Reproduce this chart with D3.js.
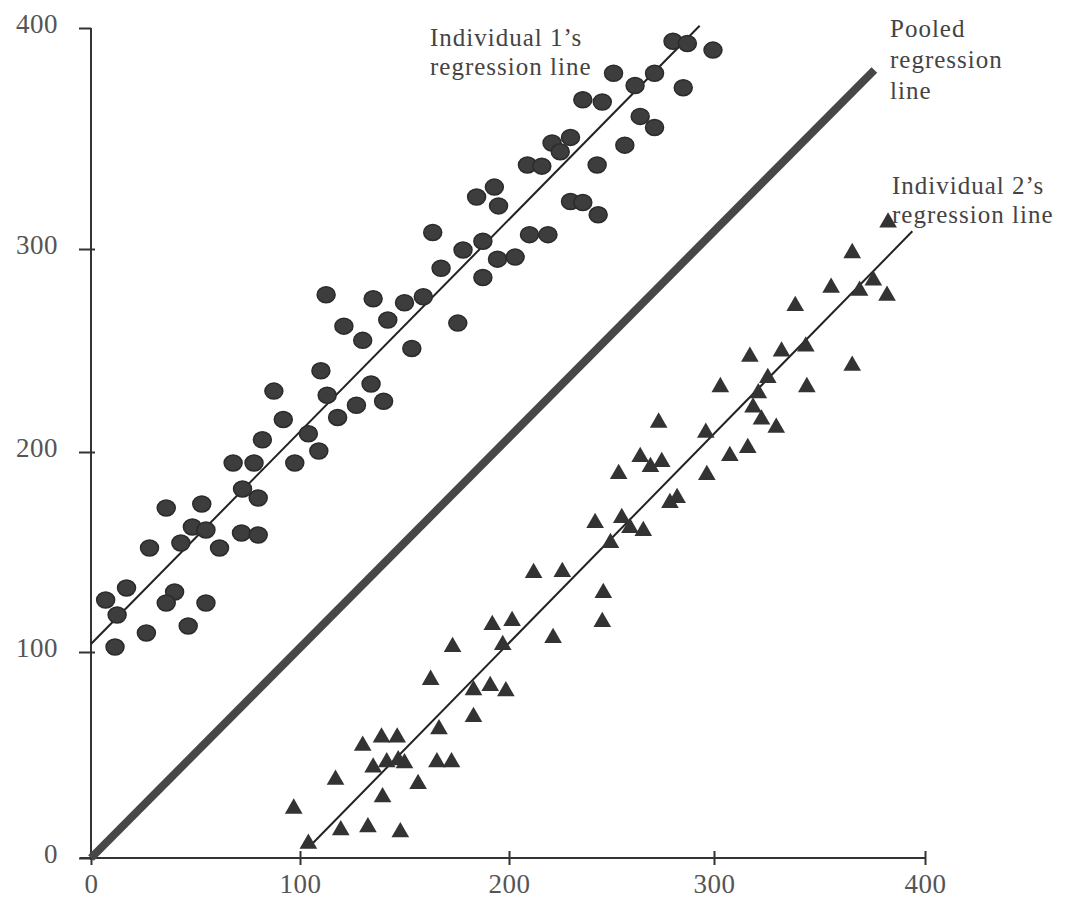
<!DOCTYPE html>
<html>
<head>
<meta charset="utf-8">
<script src="https://cdn.jsdelivr.net/npm/d3@7"></script>
<style>
  html, body { margin: 0; padding: 0; background: #fff; }
  svg { display: block; }
</style>
</head>
<body>
<svg id="chart" width="1069" height="898"></svg>
<script>
// tick labels
const xTicks = [0, 100, 200, 300, 400];
const yTicks = [0, 100, 200, 300, 400];

// individual 1 (circles)
const ind1X = [130, 110, 87.5, 113, 134, 140, 127, 118, 92, 82, 104, 109, 68, 78, 97.5, 72.5, 80, 36, 53, 48.5,
    55, 43, 28, 61.5, 72, 80, 17, 7, 12.5, 40, 36, 55, 26.5, 46.5, 11.5,
    280, 287, 299.5, 251, 271, 261.5, 285, 236, 245.5, 264, 271, 256.5, 221, 230, 225, 243, 209, 216,
    193, 184.5, 195, 230, 236, 243.5, 210, 219, 163.5, 187.5, 178, 194.5, 203, 167.5, 187.5,
    135, 150, 159, 142, 175.5, 121, 153.5, 112.5];
const ind1Y = [255, 240, 230, 228, 233.5, 225, 223, 217, 216, 206, 209, 200.5, 194.5, 194.5, 194.5, 181.5, 177, 172, 174, 162.5,
    161, 154.5, 152, 152, 159.5, 158.5, 132, 126, 118.5, 130, 124.5, 124.5, 109.5, 113, 102.5,
    394, 393, 390, 379.5, 379.5, 374, 373, 367.5, 366.5, 360, 355, 347, 348, 350.5, 344, 338, 338, 337.5,
    328, 323.5, 319.5, 321.5, 321, 315.5, 306.5, 306.5, 307.5, 303.5, 299.5, 295, 296, 290.5, 286,
    275.5, 273.5, 276.5, 265, 263.5, 262, 251, 277.5];

// individual 2 (triangles)
const ind2X = [212, 226, 245.5, 192, 201.5, 221.5, 173, 197, 162.5, 183, 191, 198.5, 183, 166.5, 130, 139, 146.5,
    135, 141.5, 147, 150, 165.5, 172.5, 156.5, 117, 139.5, 97, 119.5, 132.5, 148, 104,
    382.5, 365.5, 355.5, 375.5, 369, 382, 338.5, 343.5, 332, 317, 365.5, 325.5, 344, 303, 321, 318.5, 322.5, 329.5,
    273, 296, 264, 274.5, 269, 307.5, 316, 253.5, 296.5, 278.5, 282, 242, 255, 259, 265.5, 249.5, 246];
const ind2Y = [139.5, 140, 115, 113.5, 115.5, 107, 102.5, 103.5, 86.5, 81.5, 83.5, 81, 68.5, 62.5, 54.5, 58.5, 58.5,
    44, 46.5, 47.5, 46, 46.5, 46.5, 36, 38, 29.5, 24, 13.5, 15, 12.5, 7,
    312, 298, 281, 284.5, 279.5, 277, 272, 252, 249.5, 247, 242.5, 236.5, 232, 232, 229, 222, 216, 212,
    214.5, 209.5, 197.5, 195, 192.5, 198, 202, 189, 188.5, 174.5, 177, 164.5, 167, 162, 160.5, 154.5, 129.5];

// regression lines (end points in data units)
const ind1Line = [[0, 104], [293, 401]];
const ind2Line = [[104, 5], [394, 308]];
const pooledLine = [[0, 0], [376, 381]];

const ind1Label = ["Individual 1\u2019s", "regression line"];
const pooledLabel = ["Pooled", "regression", "line"];
const ind2Label = ["Individual 2\u2019s", "regression line"];

class RegressionScatter {
    constructor(svg) {
        this.svg = d3.select(svg);
    }

    initialize() {
        // the printed axes are hand spaced, so map every tick to where it sits
        this.x = d3.scaleLinear().domain(xTicks).range([91, 300, 509, 714, 925]);
        this.y = d3.scaleLinear().domain(yTicks).range([858, 652, 452, 249, 28]);
        this.font = "'Liberation Serif', 'Times New Roman', serif";
        this.ink = "#333";
    }

    drawAxes() {
        const x = this.x, y = this.y;

        const gx = this.svg.append("g")
            .attr("transform", `translate(0, ${y(0)})`)
            .call(d3.axisBottom(x).tickValues(xTicks).tickSize(7).tickPadding(9).tickFormat(d3.format("d")));
        gx.select(".domain").remove();
        gx.selectAll(".tick line").attr("y1", -7).attr("stroke", this.ink).attr("stroke-width", 2);
        gx.selectAll(".tick text")
            .style("font-family", this.font).style("font-size", "27px")
            .style("letter-spacing", "0.5px").attr("fill", "#555");

        const gy = this.svg.append("g")
            .attr("transform", `translate(${x(0)}, 0)`)
            .call(d3.axisLeft(y).tickValues(yTicks).tickSize(12).tickPadding(21).tickFormat(d3.format("d")));
        gy.select(".domain").remove();
        gy.selectAll(".tick line").attr("x1", d => d === 400 ? 0 : 4).attr("stroke", this.ink).attr("stroke-width", 2);
        gy.selectAll(".tick text")
            .attr("y", -4)
            .style("font-family", this.font).style("font-size", "27px")
            .style("letter-spacing", "0.5px").attr("fill", "#555");

        // axis lines
        this.svg.append("line")
            .attr("x1", x(0) - 11).attr("x2", x(400))
            .attr("y1", y(0)).attr("y2", y(0))
            .attr("stroke", this.ink).attr("stroke-width", 2);
        this.svg.append("line")
            .attr("x1", x(0)).attr("x2", x(0))
            .attr("y1", y(0) + 2).attr("y2", y(400))
            .attr("stroke", this.ink).attr("stroke-width", 2);
    }

    drawLines() {
        const line = d3.line().x(d => this.x(d[0])).y(d => this.y(d[1]));

        this.svg.append("path")
            .datum(pooledLine)
            .attr("d", line)
            .attr("fill", "none")
            .attr("stroke", "#474747")
            .attr("stroke-width", 8);

        [ind1Line, ind2Line].forEach(l => {
            this.svg.append("path")
                .datum(l)
                .attr("d", line)
                .attr("fill", "none")
                .attr("stroke", "#222")
                .attr("stroke-width", 2);
        });
    }

    drawPoints() {
        const circles = ind1X.map((d, i) => ({ x: d, y: ind1Y[i] }));
        const triangles = ind2X.map((d, i) => ({ x: d, y: ind2Y[i] }));

        this.svg.append("g")
            .selectAll("ellipse")
            .data(circles)
            .join("ellipse")
            .attr("cx", d => this.x(d.x))
            .attr("cy", d => this.y(d.y))
            .attr("rx", 9)
            .attr("ry", 8)
            .attr("fill", "#3d3d3d")
            .attr("stroke", "#2b2b2b")
            .attr("stroke-width", 1.5);

        const tri = d3.symbol().type(d3.symbolTriangle).size(135);
        this.svg.append("g")
            .selectAll("path")
            .data(triangles)
            .join("path")
            .attr("transform", d => `translate(${this.x(d.x)}, ${this.y(d.y)})`)
            .attr("d", tri)
            .attr("fill", "#333");
    }

    drawLabels() {
        // one text element per label, lines as tspans
        const block = (lines, x0, y0, step) => {
            this.svg.append("text")
                .attr("x", x0)
                .attr("y", y0)
                .style("font-family", this.font)
                .style("font-size", "25px")
                .style("letter-spacing", "1px")
                .attr("fill", "#444")
                .selectAll("tspan")
                .data(lines)
                .join("tspan")
                .attr("x", x0)
                .attr("dy", (d, i) => i === 0 ? 0 : step)
                .text(d => d);
        };
        block(ind1Label, 430, 46, 29);
        block(pooledLabel, 890, 37, 31);
        block(ind2Label, 892, 194, 29);
    }

    update() {
        this.svg.selectAll("*").remove();
        this.svg.append("rect").attr("width", 1069).attr("height", 898).attr("fill", "#fff");
        this.drawAxes();
        this.drawLines();
        this.drawPoints();
        this.drawLabels();
    }
}

const chart = new RegressionScatter("#chart");
chart.initialize();
chart.update();
</script>
</body>
</html>
